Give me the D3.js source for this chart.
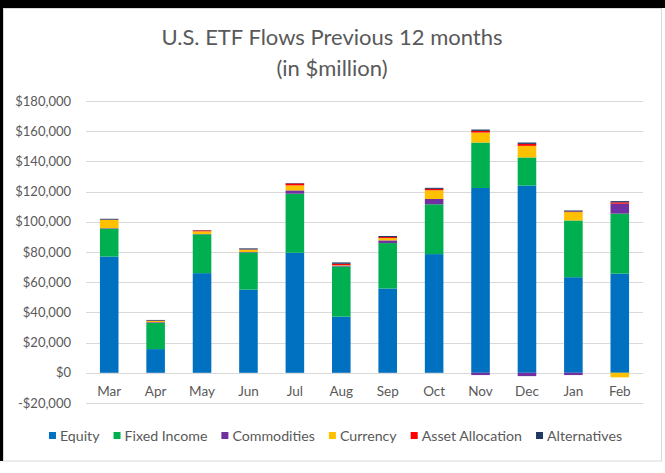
<!DOCTYPE html>
<html><head><meta charset="utf-8">
<script src="https://cdn.jsdelivr.net/npm/d3@7"></script>
<style>
html,body{margin:0;padding:0;background:#fff;}
svg text{font-family:Lato,"Open Sans",sans-serif;}
</style></head>
<body>
<svg id="c" width="665" height="473"></svg>
<script>
const months = ["Mar","Apr","May","Jun","Jul","Aug","Sep","Oct","Nov","Dec","Jan","Feb"];
const seriesNames = ["Equity","Fixed Income","Commodities","Currency","Asset Allocation","Alternatives"];
const equity        = [77000, 15700, 66000, 55100, 79500, 37200, 55800, 78600, 122400, 124000, 63300, 65700];
const fixedIncome   = [18500, 17300, 25700, 24600, 39100, 33200, 30100, 33000, 30100, 18600, 37600, 39700];
const commodities   = [300, 500, 200, 300, 2200, 700, 1800, 3500, -1500, -2200, -1500, 6600];
const currency      = [5500, 800, 1800, 1500, 3300, 300, 1500, 5800, 6600, 7700, 5500, -3000];
const assetAlloc    = [100, 200, 600, 200, 1300, 800, 700, 900, 1100, 1300, 400, 900];
const alternatives  = [600, 500, 200, 700, 300, 900, 700, 700, 900, 900, 700, 800];
const yTicks = [-20000,0,20000,40000,60000,80000,100000,120000,140000,160000,180000];
const colors = ["#0070C0","#00B050","#7030A0","#FFC000","#FF0000","#203864"];

const allSeries = [equity, fixedIncome, commodities, currency, assetAlloc, alternatives];
const table = months.map((m,i)=>{
  const o = {month:m};
  seriesNames.forEach((s,j)=>o[s]=allSeries[j][i]);
  return o;
});

const svg = d3.select("#c");
// frame
svg.append("rect").attr("x",0).attr("y",0).attr("width",665).attr("height",473).attr("fill","#fff");
svg.append("rect").attr("x",0).attr("y",0).attr("width",665).attr("height",8).attr("fill","#000");
svg.append("rect").attr("x",0).attr("y",0).attr("width",3).attr("height",461).attr("fill","#000");
svg.append("rect").attr("x",3.5).attr("y",8.5).attr("width",658).attr("height",452.5)
  .attr("fill","#fff").attr("stroke","#d9d9d9").attr("stroke-width",1);

const x = d3.scaleBand().domain(months).range([86,643]).paddingInner(0.6).paddingOuter(0.3);
const y = d3.scaleLinear().domain([-20000,180000]).range([403,101]);

// gridlines
svg.append("g").selectAll("line").data(yTicks).join("line")
  .attr("x1",86).attr("x2",643)
  .attr("y1",d=>Math.round(y(d))+0.5).attr("y2",d=>Math.round(y(d))+0.5)
  .attr("stroke","#d9d9d9").attr("stroke-width",1);

// y axis labels
const fmt = d => (d<0?"-":"") + "$" + d3.format(",")(Math.abs(d));
const yAxis = d3.axisLeft(y).tickValues(yTicks).tickFormat(fmt).tickSize(0).tickPadding(0);
const gy = svg.append("g").attr("transform","translate(71,0)").call(yAxis);
gy.select(".domain").remove();
gy.selectAll("text").attr("fill","#595959").attr("font-size","13px").style("font-family","Lato");

// stacked bars
const stack = d3.stack().keys(seriesNames).offset(d3.stackOffsetDiverging);
const layers = stack(table);
svg.append("g").selectAll("g").data(layers).join("g")
  .attr("fill",(d,i)=>colors[i])
  .selectAll("rect").data(d=>d).join("rect")
  .attr("x",d=>x(d.data.month))
  .attr("width",x.bandwidth())
  .attr("y",d=>y(Math.max(d[0],d[1])))
  .attr("height",d=>Math.abs(y(d[0])-y(d[1])));

// x axis labels
const xAxis = d3.axisBottom(x).tickSize(0).tickPadding(0);
const gx = svg.append("g").attr("transform","translate(0,386)").call(xAxis);
gx.select(".domain").remove();
gx.selectAll("text").attr("fill","#595959").attr("font-size","13.5px").attr("dy","0.71em").style("font-family","Lato");

// title
svg.append("text").attr("x",332).attr("y",45).attr("text-anchor","middle")
  .attr("font-size","22px").attr("fill","#595959").text("U.S. ETF Flows Previous 12 months");
svg.append("text").attr("x",332).attr("y",76).attr("text-anchor","middle")
  .attr("font-size","22px").attr("fill","#595959").text("(in $million)");

// legend
const lg = svg.append("g");
let cx = 0;
seriesNames.forEach((s,i)=>{
  const g = lg.append("g");
  g.append("rect").attr("x",0).attr("y",-4).attr("width",7).attr("height",7).attr("fill",colors[i]);
  const t = g.append("text").attr("x",11).attr("y",0).attr("dy","0.35em")
    .attr("font-size","14.2px").attr("fill","#595959").text(s);
  const w = 11 + t.node().getComputedTextLength();
  g.attr("transform",`translate(${cx},436)`);
  cx += w + 14;
});
const totalW = cx - 14;
lg.attr("transform",`translate(${(48+623)/2 - totalW/2},0)`);
</script>
</body></html>
